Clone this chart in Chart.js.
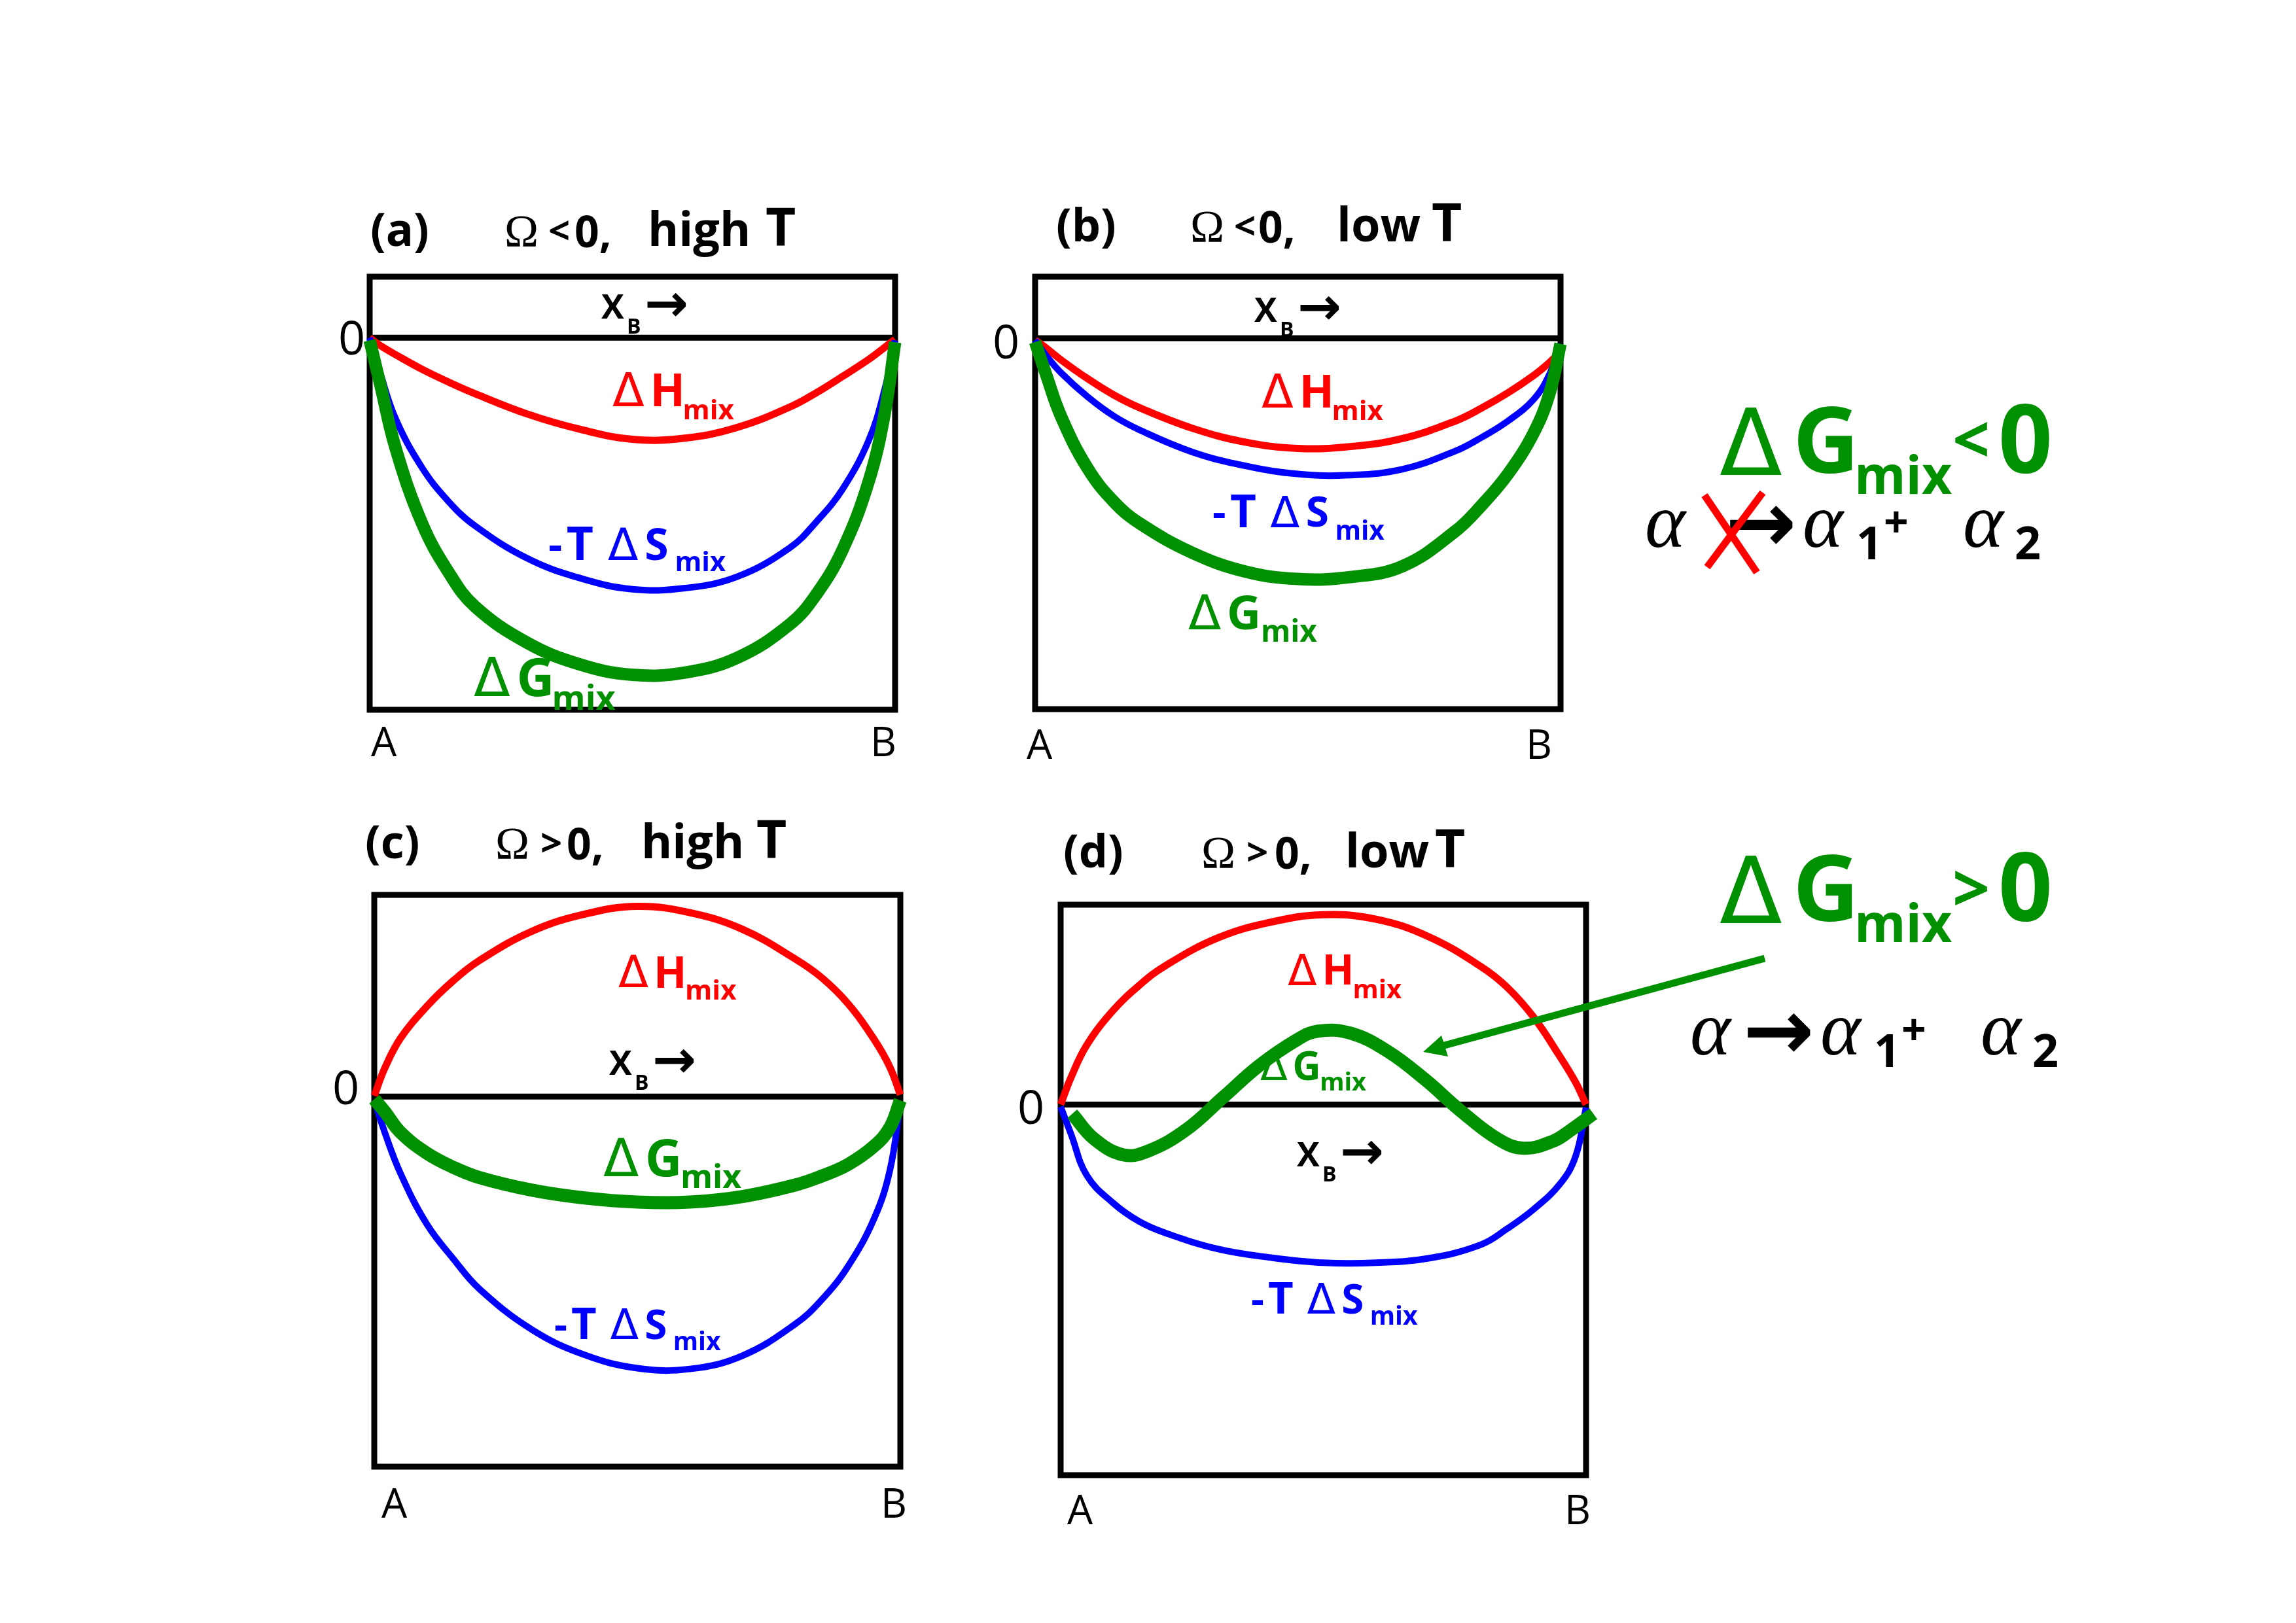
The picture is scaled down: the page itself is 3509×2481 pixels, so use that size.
<!DOCTYPE html>
<html>
<head>
<meta charset="utf-8">
<script src="https://cdn.jsdelivr.net/npm/chart.js@4.4.1/dist/chart.umd.min.js"></script>
<style>
  html, body { margin: 0; padding: 0; background: #fff; }
  body { position: relative; width: 3509px; height: 2481px; overflow: hidden; }
  canvas { position: absolute; }
  .t { position: absolute; white-space: pre; line-height: 1; }
  #deco { position: absolute; left: 0; top: 0; }
</style>
</head>
<body>
<canvas id="pa"></canvas>
<canvas id="pb"></canvas>
<canvas id="pc"></canvas>
<canvas id="pd"></canvas>
<div id="labels"></div>
<svg id="deco" width="3509" height="2481">
  <line x1="2609" y1="867" x2="2694" y2="753" stroke="#ff0000" stroke-width="11"/>
  <line x1="2605" y1="757" x2="2685" y2="875" stroke="#ff0000" stroke-width="11"/>
  <line x1="2697" y1="1465" x2="2200" y2="1600" stroke="#009000" stroke-width="11"/>
  <polygon points="2175,1608 2203,1583 2213,1615" fill="#009000"/>
</svg>
<script>
// composition grid x_B (A = 0, B = 1)
const xB = [0, 0.02, 0.05, 0.1, 0.15, 0.2, 0.3, 0.4, 0.5, 0.6, 0.7, 0.8, 0.85, 0.9, 0.95, 0.98, 1];

// (a) Omega < 0, high T
const dHa = [0, -0.021, -0.046, -0.085, -0.119, -0.150, -0.205, -0.246, -0.273, -0.270, -0.241, -0.186, -0.148, -0.104, -0.058, -0.026, -0.004];
const TdSa = [0, -0.095, -0.220, -0.350, -0.440, -0.505, -0.593, -0.646, -0.676, -0.673, -0.642, -0.564, -0.495, -0.407, -0.275, -0.140, -0.007];
const dGa = [-0.007, -0.125, -0.300, -0.500, -0.630, -0.722, -0.820, -0.878, -0.906, -0.900, -0.860, -0.770, -0.690, -0.570, -0.385, -0.205, -0.012];

// (b) Omega < 0, low T
const dHb = [-0.005, -0.025, -0.059, -0.109, -0.153, -0.188, -0.243, -0.280, -0.297, -0.292, -0.270, -0.223, -0.188, -0.147, -0.099, -0.064, -0.035];
const TdSb = [-0.005, -0.045, -0.094, -0.158, -0.210, -0.248, -0.307, -0.344, -0.366, -0.369, -0.353, -0.304, -0.267, -0.223, -0.163, -0.094, -0.015];
const dGb = [-0.010, -0.094, -0.213, -0.351, -0.441, -0.500, -0.579, -0.629, -0.649, -0.644, -0.614, -0.520, -0.450, -0.366, -0.252, -0.144, -0.015];

// (c) Omega > 0, high T
const dHc = [0.002, 0.077, 0.158, 0.244, 0.313, 0.368, 0.447, 0.493, 0.514, 0.497, 0.452, 0.372, 0.322, 0.252, 0.155, 0.080, 0.005];
const TdSc = [-0.010, -0.097, -0.208, -0.345, -0.438, -0.520, -0.630, -0.698, -0.734, -0.736, -0.700, -0.615, -0.550, -0.460, -0.330, -0.200, -0.020];
const dGc = [-0.007, -0.041, -0.097, -0.153, -0.191, -0.219, -0.253, -0.274, -0.285, -0.285, -0.270, -0.239, -0.215, -0.184, -0.134, -0.084, -0.010];

// (d) Omega > 0, low T
const dHd = [0, 0.074, 0.161, 0.254, 0.322, 0.375, 0.450, 0.492, 0.512, 0.500, 0.453, 0.372, 0.316, 0.236, 0.130, 0.060, 0.0];
const TdSd = [-0.006, -0.081, -0.192, -0.266, -0.316, -0.347, -0.390, -0.413, -0.427, -0.427, -0.415, -0.378, -0.335, -0.283, -0.215, -0.140, -0.008];
const xGd = [0.022, 0.064, 0.120, 0.169, 0.239, 0.309, 0.378, 0.448, 0.490, 0.553, 0.623, 0.693, 0.763, 0.832, 0.881, 0.937, 0.972, 1.014];
const dGd = [-0.025, -0.093, -0.136, -0.124, -0.068, 0.019, 0.105, 0.173, 0.198, 0.192, 0.143, 0.068, -0.019, -0.093, -0.118, -0.099, -0.068, -0.025];

const RED = '#ff0000', BLUE = '#0000ff', GREEN = '#009000';
const PAD = 40;

// box around the plot and the zero line
const frame = {
  id: 'frame',
  beforeDatasetsDraw(chart) {
    const { ctx, chartArea: a, scales: { y } } = chart;
    const y0 = y.getPixelForValue(0);
    ctx.save();
    ctx.strokeStyle = '#000';
    ctx.lineWidth = 9;
    ctx.strokeRect(a.left, a.top, a.right - a.left, a.bottom - a.top);
    ctx.beginPath();
    ctx.moveTo(a.left, y0);
    ctx.lineTo(a.right, y0);
    ctx.stroke();
    ctx.restore();
  }
};

function pts(xs, ys) {
  return xs.map((x, i) => ({ x: x, y: ys[i] }));
}

function panel(id, box, yTop, curves) {
  const cv = document.getElementById(id);
  cv.width = box[2] - box[0] + 2 * PAD;
  cv.height = box[3] - box[1] + 2 * PAD;
  cv.style.left = (box[0] - PAD) + 'px';
  cv.style.top = (box[1] - PAD) + 'px';
  return new Chart(cv, {
    type: 'line',
    data: {
      datasets: curves.map((c) => ({
        data: pts(c.x, c.y),
        borderColor: c.color,
        borderWidth: c.w,
        pointRadius: 0,
        tension: 0.4,
        fill: false,
        clip: false
      }))
    },
    options: {
      responsive: false,
      animation: false,
      events: [],
      layout: { padding: PAD },
      elements: { line: { capBezierPoints: false } },
      scales: {
        x: { type: 'linear', min: 0, max: 1, display: false },
        y: { min: -1, max: yTop, display: false }
      },
      plugins: { legend: { display: false }, tooltip: { enabled: false } }
    },
    plugins: [frame]
  });
}

// green first so it is drawn on top
panel('pa', [565, 423, 1368, 1085], 0.164, [
  { x: xB, y: dGa, color: GREEN, w: 19 },
  { x: xB, y: TdSa, color: BLUE, w: 10 },
  { x: xB, y: dHa, color: RED, w: 11 }
]);
panel('pb', [1582, 423, 2385, 1084], 0.166, [
  { x: xB, y: dGb, color: GREEN, w: 19 },
  { x: xB, y: TdSb, color: BLUE, w: 10 },
  { x: xB, y: dHb, color: RED, w: 11 }
]);
panel('pc', [572, 1368, 1376, 2242], 0.545, [
  { x: xB, y: dGc, color: GREEN, w: 20 },
  { x: xB, y: TdSc, color: BLUE, w: 10 },
  { x: xB, y: dHc, color: RED, w: 11 }
]);
panel('pd', [1621, 1383, 2424, 2255], 0.539, [
  { x: xGd, y: dGd, color: GREEN, w: 20 },
  { x: xB, y: TdSd, color: BLUE, w: 10 },
  { x: xB, y: dHd, color: RED, w: 11 }
]);

// ---- text ----
const FONTS = {
  sans: ["'Open Sans', sans-serif", 0.888],
  delta: ["'DejaVu Sans', sans-serif", 0.846],
  serif: ["'Liberation Serif', serif", 0.8375],
  arrow: ["'Noto Sans', 'DejaVu Sans', sans-serif", 0.888]
};
const host = document.getElementById('labels');
function t(txt, x, base, size, color, font, weight, style) {
  const f = FONTS[font || 'sans'];
  const d = document.createElement('div');
  d.className = 't';
  d.textContent = txt;
  d.style.left = x + 'px';
  d.style.top = (base - f[1] * size) + 'px';
  d.style.fontSize = size + 'px';
  d.style.color = color || '#000';
  d.style.fontFamily = f[0];
  d.style.fontWeight = weight || 700;
  if (style) d.style.fontStyle = style;
  host.appendChild(d);
}
// "ΔX_mix" style label
function dl(sym, x, base, size, color, sub, dx, dsz, subBase) {
  t('\u0394', x, base, size * 1.02, color, 'delta', 400);
  t(sym, x + size * 0.82, base, size, color);
  t(sub, x + size * 0.82 + dx, subBase, dsz, color);
}
// "-TΔS_mix" label
function ts(x, base, size, color, subBase) {
  t('-', x, base, size, color);
  t('T', x + size * 0.42, base, size * 1.08, color);
  t('\u0394', x + size * 1.38, base + 1, size * 1.03, color, 'delta', 400);
  t('S', x + size * 2.23, base, size, color);
  t('mix', x + size * 2.93, subBase, size * 0.63, color);
}
function title(tag, rest, x, xs, base, omegaSign) {
  t(tag, x, base, 70);
  t('\u03a9', xs[0], base + 2, 70, '#000', 'serif', 400);
  t(omegaSign, xs[1], base - 2, 58);
  t('0,', xs[2], base + 2, 66);
  t(rest, xs[3], base, 72);
  t('T', xs[4], base, 80);
}
function xb(x, base) {
  t('X', x, base, 52);
  t('B', x + 39, base + 23, 32);
  t('\u2192', x + 66, base + 4, 80, '#000', 'arrow', 700);
}

// (a)
title('(a)', 'high', 566, [771, 838, 878, 990, 1170], 376, '<');
xb(919, 487);
t('0', 517, 542, 72, '#000', 'sans', 400);
dl('H', 936, 621, 70, RED, 'mix', 50, 42, 641);
ts(838, 856, 66, BLUE, 874);
dl('G', 724, 1064, 80, GREEN, 'mix', 54, 52, 1085);
t('A', 567, 1156, 62, '#000', 'sans', 400);
t('B', 1330, 1156, 62, '#000', 'sans', 400);

// (b)
title('(b)', 'low', 1614, [1819, 1886, 1923, 2043, 2188], 369, '<');
xb(1917, 492);
t('0', 1517, 548, 72, '#000', 'sans', 400);
dl('H', 1928, 623, 70, RED, 'mix', 50, 42, 642);
ts(1853, 806, 64, BLUE, 826);
dl('G', 1816, 962, 72, GREEN, 'mix', 52, 46, 981);
t('A', 1569, 1160, 62, '#000', 'sans', 400);
t('B', 2332, 1160, 62, '#000', 'sans', 400);

// (c)
title('(c)', 'high', 558, [757, 826, 866, 980, 1156], 1312, '>');
xb(931, 1643);
t('0', 508, 1688, 72, '#000', 'sans', 400);
dl('H', 945, 1510, 66, RED, 'mix', 48, 42, 1528);
dl('G', 922, 1798, 78, GREEN, 'mix', 54, 50, 1816);
ts(847, 2047, 62, BLUE, 2064);
t('A', 583, 2320, 62, '#000', 'sans', 400);
t('B', 1346, 2320, 62, '#000', 'sans', 400);

// (d)
title('(d)', 'low', 1625, [1836, 1905, 1948, 2056, 2193], 1326, '>');
xb(1982, 1783);
t('0', 1555, 1718, 72, '#000', 'sans', 400);
dl('H', 1968, 1506, 64, RED, 'mix', 47, 40, 1527);
dl('G', 1926, 1651, 60, GREEN, 'mix', 42, 38, 1667);
ts(1912, 2008, 62, BLUE, 2025);
t('A', 1631, 2330, 62, '#000', 'sans', 400);
t('B', 2391, 2330, 62, '#000', 'sans', 400);

// right-hand notes
function bigG(y, sign, signBase) {
  t('\u0394', 2628, y + 3, 140, GREEN, 'delta', 400);
  t('G', 2740, y, 140, GREEN);
  t('mix', 2834, y + 32, 80, GREEN);
  t(sign, 2984, signBase, 100, GREEN);
  t('0', 3054, y, 145, GREEN);
}
function split(xa, xr, y) {
  t('\u03b1', xa, y, 118, '#000', 'serif', 400, 'italic');
  t('\u2192', xr - 8, y + 6, 130, '#000', 'arrow', 700);
  t('\u03b1', xr + 110, y, 118, '#000', 'serif', 400, 'italic');
  t('1', xr + 192, y + 18, 70);
  t('+', xr + 234, y - 16, 66);
  t('\u03b1', xr + 355, y, 118, '#000', 'serif', 400, 'italic');
  t('2', xr + 434, y + 18, 70);
}
bigG(723, '<', 708);
split(2514, 2645, 837);
bigG(1408, '>', 1394);
split(2583, 2672, 1613);
</script>
</body>
</html>
